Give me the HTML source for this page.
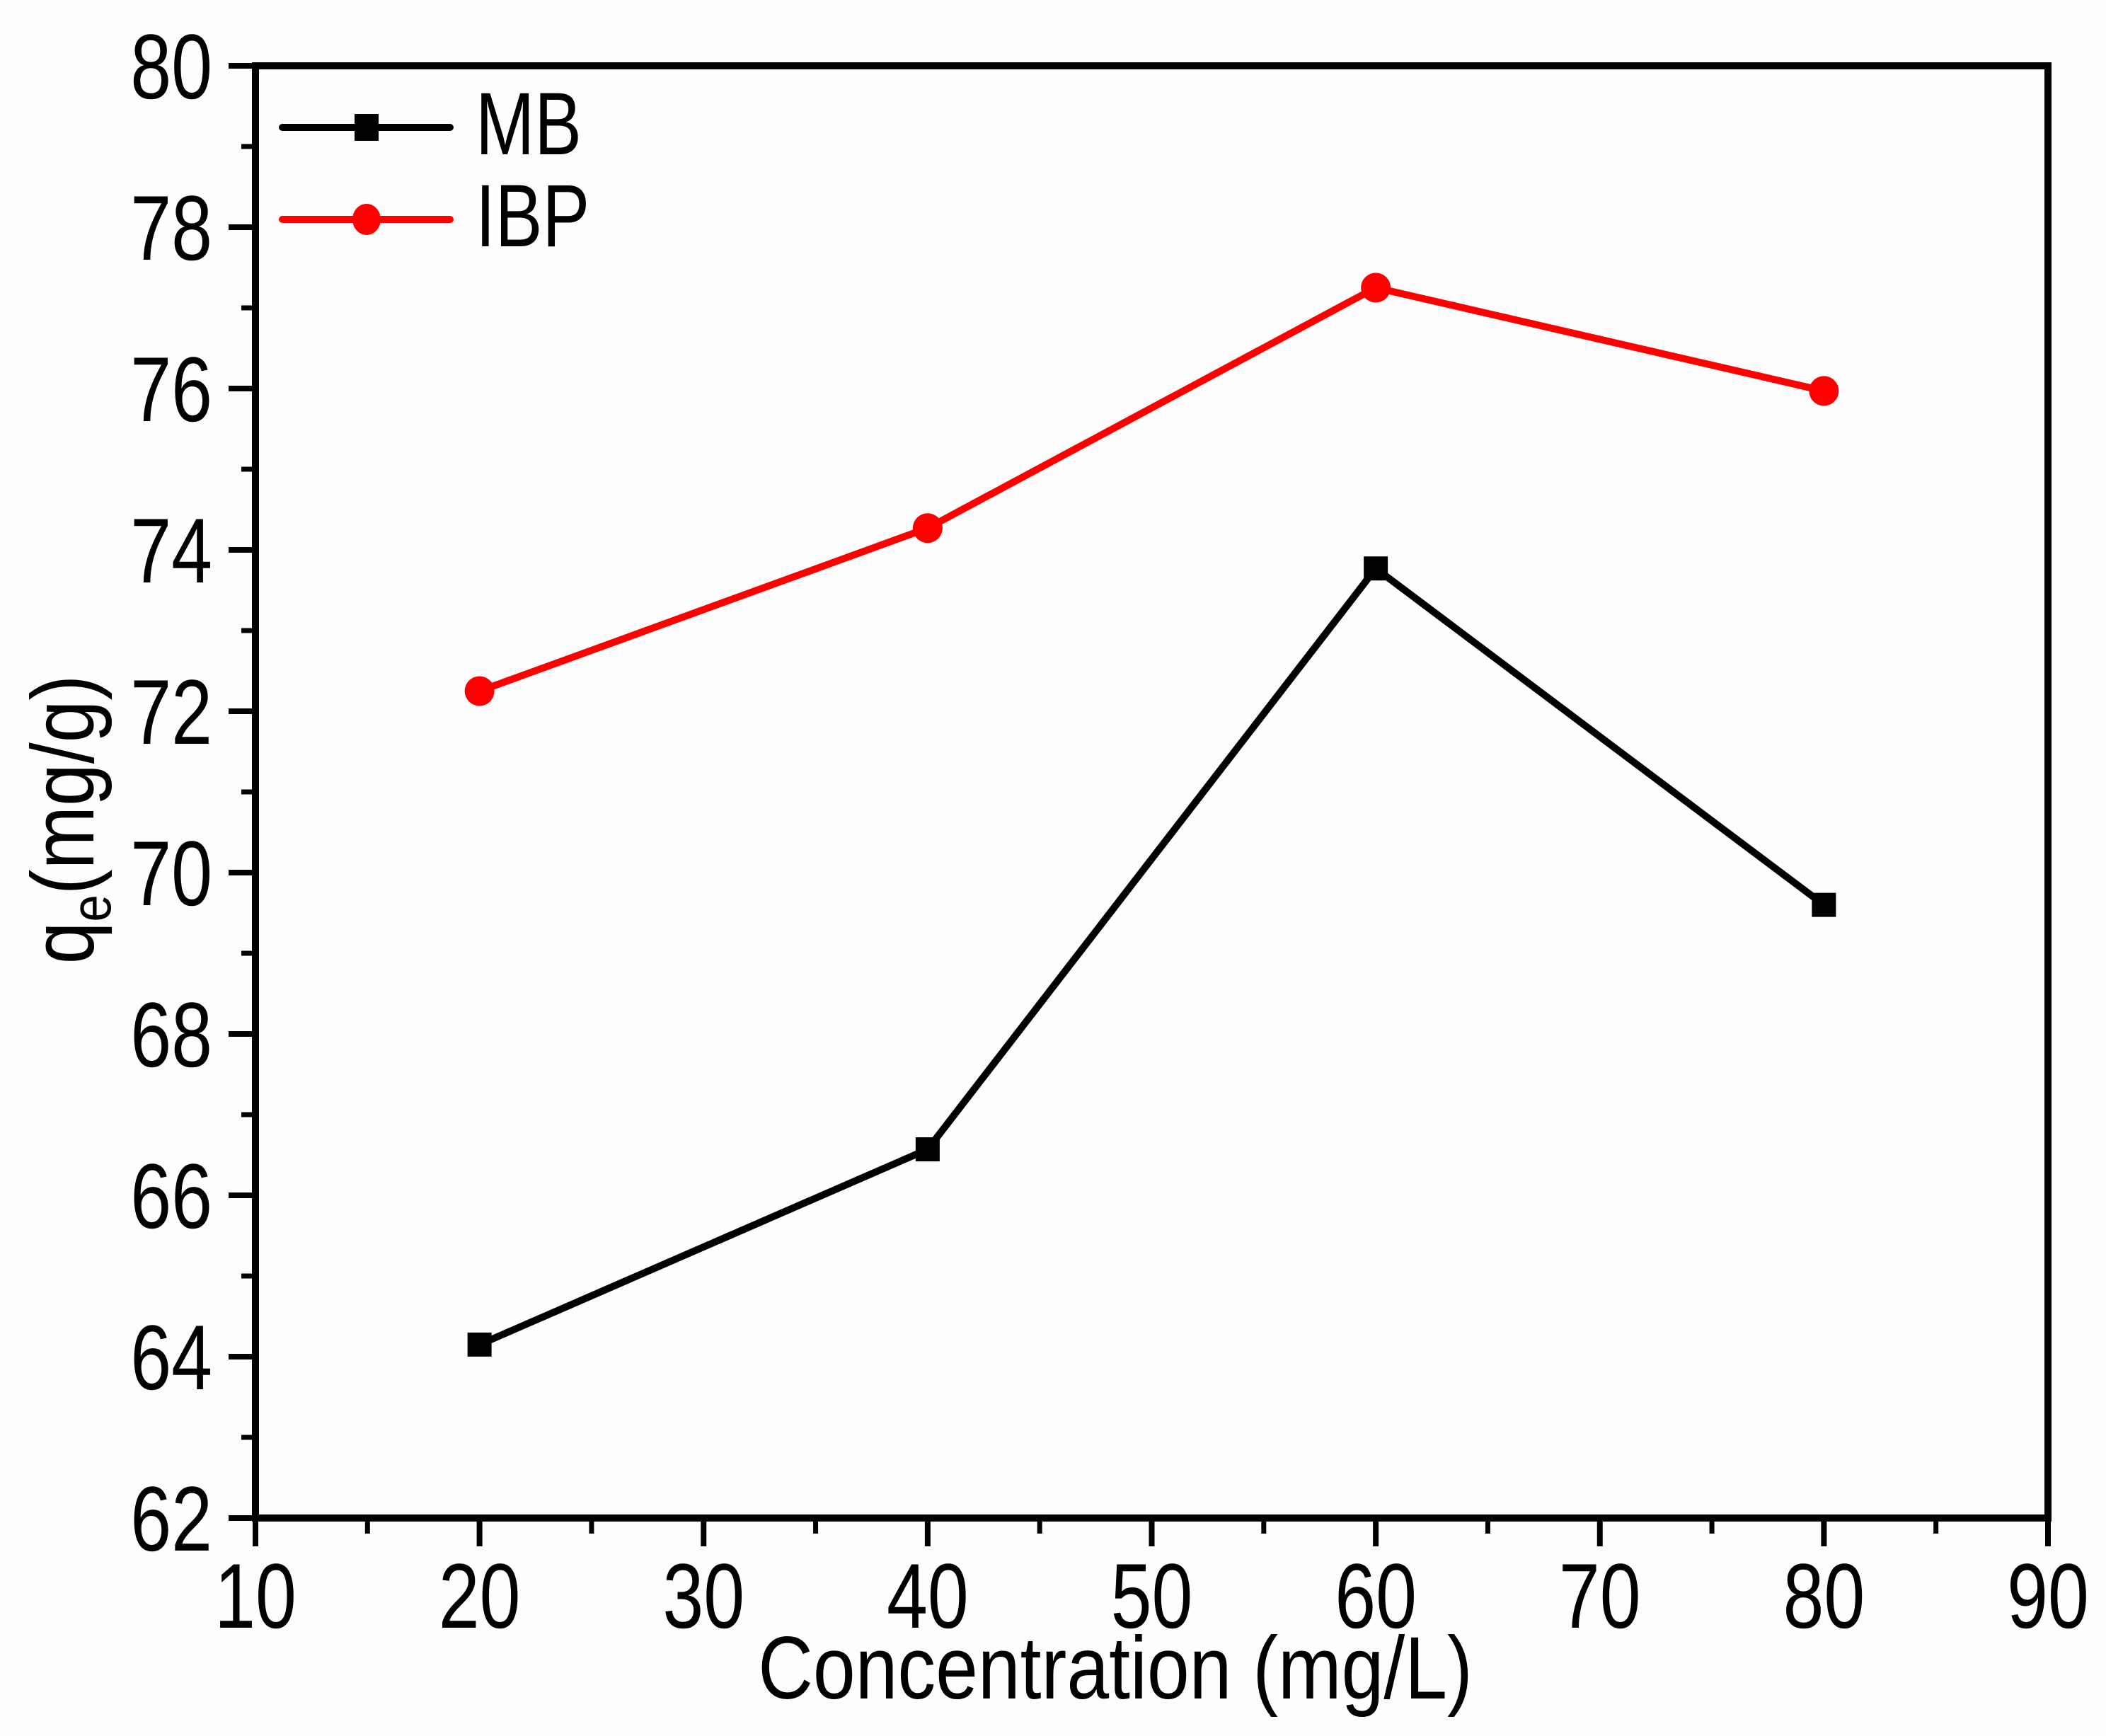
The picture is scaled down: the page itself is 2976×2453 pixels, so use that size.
<!DOCTYPE html>
<html><head><meta charset="utf-8"><style>
html,body{margin:0;padding:0;background:#fdfdfd;}
svg{display:block;}
text{font-family:"Liberation Sans",Arial,sans-serif;fill:#000;}
</style></head><body>
<svg id="chart" width="2976" height="2453" viewBox="0 0 2976 2453" xmlns="http://www.w3.org/2000/svg">
<rect x="0" y="0" width="2976" height="2453" fill="#fdfdfd"/>
<g id="ticks"></g>
<g id="series"></g>
<rect x="361" y="93" width="2533" height="2052" fill="none" stroke="#000" stroke-width="10"/>
<g>
  <g>
    <line x1="399" y1="180" x2="636" y2="180" stroke="#000" stroke-width="10" stroke-linecap="round"/>
    <rect x="501" y="161" width="34" height="38" fill="#000"/>
    <text transform="translate(672,218) scale(0.8,1)" font-size="125">MB</text>
  </g>
  <g>
    <line x1="399" y1="310" x2="636" y2="310" stroke="#f00" stroke-width="10" stroke-linecap="round"/>
    <ellipse cx="518" cy="310" rx="20" ry="22" fill="#f00"/>
    <text transform="translate(672,348) scale(0.8,1)" font-size="125">IBP</text>
  </g>
</g>
<text transform="translate(1576,2400) scale(0.86,1)" font-size="125" text-anchor="middle">Concentration (mg/L)</text>
<text transform="translate(132,1158) rotate(-90) scale(0.86,1)" font-size="125" text-anchor="middle">q<tspan font-size="80" dy="24">e</tspan><tspan dy="-24">(mg/g)</tspan></text>
</svg>
<script>
const categories = [20, 40, 60, 80];
const mbValues = [64.15, 66.57, 73.77, 69.6];
const ibpValues = [72.25, 74.27, 77.25, 75.97];
const xTickLabels = [10, 20, 30, 40, 50, 60, 70, 80, 90];
const yTickLabels = [62, 64, 66, 68, 70, 72, 74, 76, 78, 80];

const NS = 'http://www.w3.org/2000/svg';
const X0 = 361, X1 = 2894, Y0 = 2145, Y1 = 93;
function xs(v){ return X0 + (v - 10) / 80 * (X1 - X0); }
function ys(v){ return Y0 - (v - 62) / 18 * (Y0 - Y1); }
function mk(tag, attrs){ const e = document.createElementNS(NS, tag); for (const k in attrs) e.setAttribute(k, attrs[k]); return e; }

const tg = document.getElementById('ticks');
xTickLabels.forEach((v, i) => {
  const x = xs(v);
  const t = mk('line', {x1:x, y1:Y0, x2:x, y2:Y0+40, stroke:'#000', 'stroke-width':8});
  
  
  tg.appendChild(t);
  const lb = mk('text', {transform:'translate(' + x + ',2300) scale(0.8,1)', 'font-size':130, 'text-anchor':'middle'});
  lb.textContent = v;
  
  
  tg.appendChild(lb);
  if (i < xTickLabels.length - 1) {
    const mx = xs(v + 5);
    const m = mk('line', {x1:mx, y1:Y0, x2:mx, y2:Y0+22, stroke:'#000', 'stroke-width':7});
    
    
    tg.appendChild(m);
  }
});
yTickLabels.forEach((v, i) => {
  const y = ys(v);
  const t = mk('line', {x1:X0-38, y1:y, x2:X0, y2:y, stroke:'#000', 'stroke-width':8});
  
  
  tg.appendChild(t);
  const lb = mk('text', {transform:'translate(300,' + (y + 46) + ') scale(0.8,1)', 'font-size':130, 'text-anchor':'end'});
  lb.textContent = v;
  
  
  tg.appendChild(lb);
  if (i < yTickLabels.length - 1) {
    const my = ys(v + 1);
    const m = mk('line', {x1:X0-20, y1:my, x2:X0, y2:my, stroke:'#000', 'stroke-width':7});
    
    
    tg.appendChild(m);
  }
});

const sg = document.getElementById('series');
function drawSeries(vals, color, name, square){
  const pts = categories.map((c, i) => xs(c) + ',' + ys(vals[i])).join(' ');
  const pl = mk('polyline', {points:pts, fill:'none', stroke:color, 'stroke-width':10, 'stroke-linejoin':'round'});
  
  
  sg.appendChild(pl);
  categories.forEach((c, i) => {
    const x = xs(c), y = ys(vals[i]);
    const p = square ? mk('rect', {x:x-17, y:y-17, width:34, height:34, fill:color})
                     : mk('ellipse', {cx:x, cy:y, rx:21, ry:21, fill:color});
    
    
    sg.appendChild(p);
  });
}
drawSeries(ibpValues, '#f00', 'ibp', false);
drawSeries(mbValues, '#000', 'mb', true);
</script>
</body></html>
